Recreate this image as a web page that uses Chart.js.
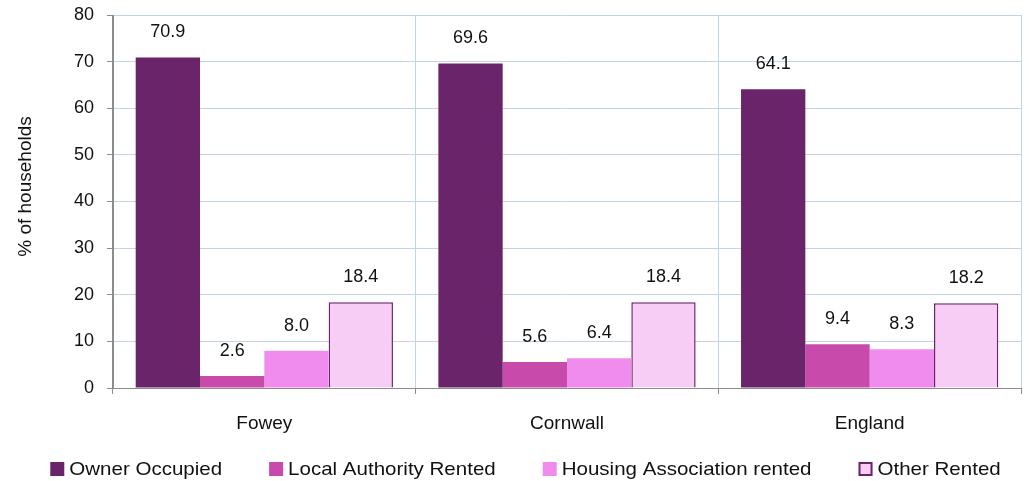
<!DOCTYPE html>
<html>
<head>
<meta charset="utf-8">
<script src="https://cdn.jsdelivr.net/npm/chart.js@4/dist/chart.umd.min.js"></script>
<style>
  html, body { margin: 0; padding: 0; background: #fff; }
  #wrap { width: 1029px; height: 481px; }
</style>
</head>
<body>
<div id="wrap"><canvas id="tenureChart"></canvas></div>
<script>
// Household tenure by area (% of households)
const areas = ['Fowey', 'Cornwall', 'England'];
const ownerOccupied = [70.9, 69.6, 64.1];
const localAuthority = [2.6, 5.6, 9.4];
const housingAssoc = [8.0, 6.4, 8.3];
const otherRented = [18.4, 18.4, 18.2];
const yTicks = [0, 10, 20, 30, 40, 50, 60, 70, 80];
const yTitle = '% of households';

const FONT = '"Liberation Sans", Arial, sans-serif';
const gridBlue = '#c3d3ea';
const axisGrey = '#8c8c8c';

// write each bar's value above it
const valueLabels = {
    id: 'valueLabels',
    afterDatasetsDraw(chart) {
        const ctx = chart.ctx;
        ctx.save();
        ctx.font = '18px ' + FONT;
        ctx.fillStyle = '#111';
        ctx.textAlign = 'center';
        ctx.textBaseline = 'middle';
        chart.data.datasets.forEach((ds, i) => {
            chart.getDatasetMeta(i).data.forEach((bar, j) => {
                ctx.fillText(ds.data[j].toFixed(1), bar.x, bar.y - 25);
            });
        });
        ctx.restore();
    }
};

// rotated y-axis title, sitting a little above the middle of the axis
const axisTitle = {
    id: 'axisTitle',
    afterDraw(chart) {
        const ctx = chart.ctx;
        const area = chart.chartArea;
        ctx.save();
        ctx.translate(26, (area.top + area.bottom) / 2 - 15);
        ctx.rotate(-Math.PI / 2);
        ctx.font = '19px ' + FONT;
        ctx.fillStyle = '#111';
        ctx.textAlign = 'center';
        ctx.textBaseline = 'middle';
        ctx.fillText(yTitle, 0, 0);
        ctx.restore();
    }
};

// single-row legend along the bottom: square swatch, tight gap, slightly wide label
const bottomLegend = {
    id: 'bottomLegend',
    afterDraw(chart) {
        const ctx = chart.ctx;
        const box = 14, gap = 5, spacing = 47, stretch = 1.08;
        ctx.save();
        ctx.font = '19px ' + FONT;
        ctx.textBaseline = 'middle';
        ctx.textAlign = 'left';
        const items = chart.data.datasets.map(ds => ({ ds, w: ctx.measureText(ds.label).width * stretch }));
        const total = items.reduce((s, it) => s + box + gap + it.w, 0) + spacing * (items.length - 1);
        let x = chart.width / 2 + 11 - total / 2;
        const y = chart.height - 12;
        items.forEach(({ ds, w }) => {
            ctx.fillStyle = ds.backgroundColor;
            ctx.fillRect(x, y - box / 2, box, box);
            if (ds.borderWidth) {
                ctx.strokeStyle = ds.borderColor;
                ctx.lineWidth = 2;
                ctx.strokeRect(x + 1, y - box / 2 + 1, box - 2, box - 2);
            }
            ctx.save();
            ctx.translate(x + box + gap, y + 1);
            ctx.scale(stretch, 1);
            ctx.fillStyle = '#111';
            ctx.fillText(ds.label, 0, 0);
            ctx.restore();
            x += box + gap + w + spacing;
        });
        ctx.restore();
    }
};

const ctx = document.getElementById('tenureChart').getContext('2d');
new Chart(ctx, {
    type: 'bar',
    data: {
        labels: areas,
        datasets: [
            { label: 'Owner Occupied', data: ownerOccupied, backgroundColor: '#6a2469', borderColor: '#6a2469', borderWidth: 0 },
            { label: 'Local Authority Rented', data: localAuthority, backgroundColor: '#c84aab', borderColor: '#c84aab', borderWidth: 0 },
            { label: 'Housing Association rented', data: housingAssoc, backgroundColor: '#f08ced', borderColor: '#f08ced', borderWidth: 0 },
            { label: 'Other Rented', data: otherRented, backgroundColor: '#f7cdf6', borderColor: '#6a2469', borderWidth: 1.5 }
        ]
    },
    options: {
        responsive: true,
        maintainAspectRatio: false,
        animation: false,
        datasets: { bar: { categoryPercentage: 0.85, barPercentage: 1.0 } },
        layout: { padding: { top: 15, right: 8, left: 0, bottom: 36 } },
        plugins: {
            tooltip: { enabled: false },
            legend: { display: false }
        },
        scales: {
            x: {
                grid: {
                    color: c => (c.index === 0 ? axisGrey : gridBlue),
                    tickColor: axisGrey,
                    tickLength: 6,
                    offset: true
                },
                border: { color: axisGrey, width: 1 },
                ticks: { color: '#111', padding: 18, font: { family: FONT, size: 19 } },
                afterFit(scale) { scale.height = 57; }
            },
            y: {
                min: 0,
                max: 80,
                afterBuildTicks(scale) { scale.ticks = yTicks.map(v => ({ value: v })); },
                grid: {
                    color: c => (c.index === 0 ? axisGrey : gridBlue),
                    tickColor: axisGrey,
                    tickLength: 6
                },
                border: { color: axisGrey, width: 1 },
                ticks: { color: '#111', padding: 13, font: { family: FONT, size: 18 } },
                afterFit(scale) {
                    scale.width = 113;
                    scale.paddingTop = 0;
                    scale.paddingBottom = 0;
                }
            }
        }
    },
    plugins: [valueLabels, axisTitle, bottomLegend]
});
</script>
</body>
</html>
